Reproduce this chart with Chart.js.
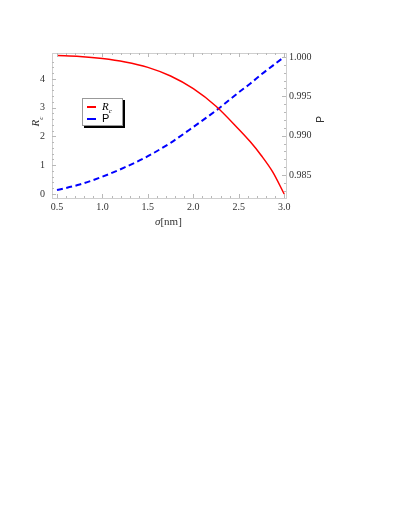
<!DOCTYPE html>
<html>
<head>
<meta charset="utf-8">
<script src="https://cdn.jsdelivr.net/npm/chart.js@4"></script>
<style>
	body { margin: 0; background: #fff; }
	#wrap { position: relative; width: 395px; height: 511px; }
	.lbl { position: absolute; color: #333; white-space: nowrap; }
	.serif { font-family: "Liberation Serif", "DejaVu Serif", serif; }
	.sans { font-family: "Liberation Sans", Arial, sans-serif; }
	#legend {
		position: absolute; left: 82px; top: 98px; width: 39px; height: 26px;
		background: #fff; border: 1px solid #999; box-shadow: 2px 2px 0 #000;
		font-size: 11px;
	}
	.row { position: absolute; left: 4px; height: 12px; line-height: 12px; }
	.swatch { display: inline-block; width: 9px; vertical-align: middle; margin-right: 6px; }
</style>
</head>
<body>
<div id="wrap">
	<canvas id="chart" width="395" height="511"></canvas>
	<div id="legend">
		<div class="row" style="top:1px"><span class="swatch" style="border-top:2px solid #f00"></span><span class="serif"><i>R<sub style="font-size:7px">c</sub></i></span></div>
		<div class="row" style="top:13px"><span class="swatch" style="border-top:2px dashed #00f"></span><span class="sans">P</span></div>
	</div>
	<div class="lbl serif" style="left:32px;top:114px;font-size:11px;transform:rotate(-90deg);transform-origin:center"><i>R<sub style="font-size:7px">c</sub></i></div>
	<div class="lbl sans" style="left:317px;top:114px;font-size:10px;transform:rotate(-90deg);transform-origin:center">P</div>
	<div class="lbl serif" style="left:155px;top:215px;font-size:11px"><i>σ</i>[nm]</div>
</div>
<script>
//#region data
const sigma = [0.5, 0.75, 1.0, 1.25, 1.5, 1.75, 2.0, 2.25, 2.5, 2.625, 2.75, 2.875, 3.0];
const rc = [4.81, 4.78, 4.71, 4.59, 4.40, 4.10, 3.66, 3.05, 2.25, 1.82, 1.33, 0.76, 0.0];
const prob = [0.9831, 0.9838, 0.9848, 0.9860, 0.9874, 0.9891, 0.9911, 0.9932, 0.9955, 0.9966, 0.9978, 0.9989, 1.0000];

const xTicks = [0.5, 1.0, 1.5, 2.0, 2.5, 3.0];
const yTicks = [0, 1, 2, 3, 4];
const pTicks = [0.985, 0.990, 0.995, 1.000];
//#endregion

//minor tick values (Mathematica style frame ticks)
const xMinor = [];
for (let v = 0.5; v <= 3.0001; v += 0.1) xMinor.push(v);
const yMinor = [];
for (let v = 0; v <= 4.8; v += 0.2) yMinor.push(v);
const pMinor = [];
for (let v = 0.983; v <= 1.0001; v += 0.001) pMinor.push(v);

const tickFont = { family: '"Liberation Serif", "DejaVu Serif", serif', size: 10 };

//draws the inward frame ticks on all four sides
const frameTicks = {
	id: 'frameTicks',
	afterDraw(chart) {
		const { ctx, chartArea: a, scales } = chart;
		ctx.save();
		ctx.strokeStyle = '#b8b8b8';
		ctx.lineWidth = 1;
		const tick = (x1, y1, x2, y2) => {
			ctx.beginPath(); ctx.moveTo(x1, y1); ctx.lineTo(x2, y2); ctx.stroke();
		};
		xMinor.forEach(v => {
			const x = Math.round(scales.x.getPixelForValue(v)) + 0.5;
			const major = xTicks.some(t => Math.abs(t - v) < 1e-6);
			const l = major ? 4 : 2;
			tick(x, a.bottom, x, a.bottom - l);
			tick(x, a.top, x, a.top + l);
		});
		yMinor.forEach(v => {
			const y = Math.round(scales.y.getPixelForValue(v)) + 0.5;
			const major = yTicks.some(t => Math.abs(t - v) < 1e-6);
			tick(a.left, y, a.left + (major ? 4 : 2), y);
		});
		pMinor.forEach(v => {
			const y = Math.round(scales.p.getPixelForValue(v)) + 0.5;
			const major = pTicks.some(t => Math.abs(t - v) < 1e-6);
			tick(a.right, y, a.right - (major ? 4 : 2), y);
		});
		ctx.restore();
	}
};

const chart = new Chart(document.getElementById('chart'), {
	type: 'line',
	data: {
		datasets: [{
			label: 'Rc',
			data: sigma.map((s, i) => ({ x: s, y: rc[i] })),
			yAxisID: 'y',
			borderColor: '#ff0000',
			borderWidth: 1.5,
			pointRadius: 0,
			cubicInterpolationMode: 'monotone',
		}, {
			label: 'P',
			data: sigma.map((s, i) => ({ x: s, y: prob[i] })),
			yAxisID: 'p',
			borderColor: '#0000ff',
			borderWidth: 2,
			borderDash: [6, 3.5],
			pointRadius: 0,
			cubicInterpolationMode: 'monotone',
		}]
	},
	options: {
		responsive: false,
		animation: false,
		layout: { padding: { top: 53, left: 0, right: 0, bottom: 0 } },
		plugins: { legend: { display: false }, tooltip: { enabled: false } },
		scales: {
			x: {
				type: 'linear', min: 0.445, max: 3.02,
				afterBuildTicks: s => { s.ticks = xTicks.map(v => ({ value: v })); },
				afterFit: s => { s.height = 313; },
				grid: { drawOnChartArea: false, drawTicks: false },
				border: { color: '#cfcfcf' },
				ticks: { padding: 3, color: '#333', font: tickFont, maxRotation: 0, callback: v => v.toFixed(1) }
			},
			x2: {
				type: 'linear', position: 'top', min: 0.445, max: 3.02, display: true,
				afterFit: s => { s.height = 0; },
				grid: { drawOnChartArea: false, drawTicks: false },
				border: { color: '#cfcfcf' },
				ticks: { display: false }
			},
			y: {
				type: 'linear', position: 'left', min: -0.14, max: 4.9,
				afterBuildTicks: s => { s.ticks = yTicks.map(v => ({ value: v })); },
				afterFit: s => { s.width = 52; },
				grid: { drawOnChartArea: false, drawTicks: false },
				border: { color: '#cfcfcf' },
				ticks: { padding: 7, color: '#333', font: tickFont, callback: v => String(v) }
			},
			p: {
				type: 'linear', position: 'right', min: 0.98209, max: 1.0005,
				afterBuildTicks: s => { s.ticks = pTicks.map(v => ({ value: v })); },
				afterFit: s => { s.width = 109; },
				grid: { drawOnChartArea: false, drawTicks: false },
				border: { color: '#cfcfcf' },
				ticks: { padding: 3, color: '#333', font: tickFont, callback: v => v.toFixed(3) }
			}
		}
	},
	plugins: [frameTicks]
});
</script>
</body>
</html>
